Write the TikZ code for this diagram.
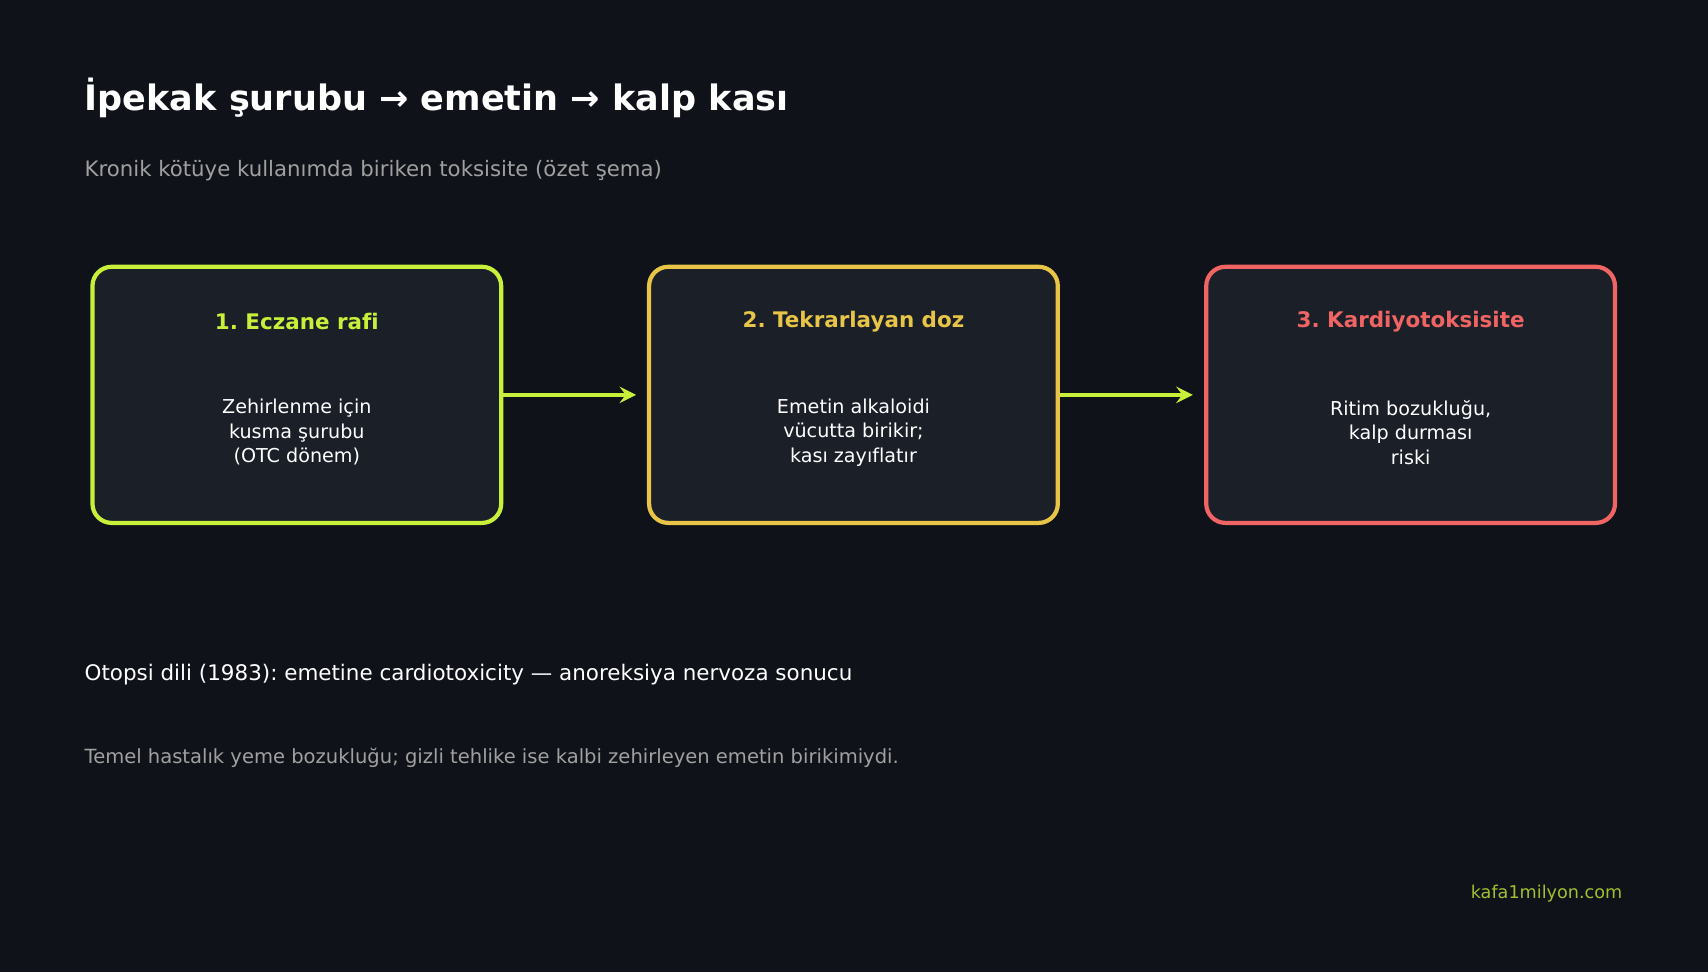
\documentclass[tikz,border=0pt]{standalone}
\usepackage{fontspec}
\setmainfont{DejaVu Sans}[Ligatures=NoCommon]
\frenchspacing
\definecolor{bg}{HTML}{0F1219}
\definecolor{boxfill}{HTML}{1B1F27}
\definecolor{lime}{HTML}{C8F03A}
\definecolor{gold}{HTML}{E8C547}
\definecolor{coral}{HTML}{F06464}
\definecolor{greytext}{HTML}{A0A0A0}
\tikzset{
  step/.style={draw=#1, line width=1.1pt, fill=boxfill, rounded corners=5pt,
    minimum width=3.75cm, minimum height=2.35cm},
  head/.style={text=#1, font=\fontsize{5.6}{6.5}\selectfont\bfseries},
  body/.style={text=white, align=center, font=\fontsize{5}{6.4}\selectfont},
  link/.style={-stealth, draw=lime, line width=0.9pt},
  plain/.style={anchor=west, inner sep=0pt}
}
\begin{document}
\begin{tikzpicture}[x=0.01cm, y=-0.01cm]
  \fill[bg] (0,0) rectangle (1568,892);
  \useasboundingbox (0,0) rectangle (1568,892);

  \node[plain, text=white, font=\fontsize{9.15}{11}\selectfont\bfseries] (title) at (77,90)
    {İpekak şurubu → emetin → kalp kası};
  \node[plain, text=greytext, font=\fontsize{5.55}{6.5}\selectfont] (sub) at (77,157)
    {Kronik kötüye kullanımda biriken toksisite (özet şema)};

  % steps
  \node[step=lime] (shelf) at (272.5,362.5) {};
  \node[step=gold] (dose) at (783.5,362.5) {};
  \node[step=coral] (cardio) at (1295,362.5) {};

  \node[head=lime] (shelfh) at (272.5,295) {1. Eczane rafi};
  \node[head=gold] (doseh) at (783.5,295) {2. Tekrarlayan doz};
  \node[head=coral] (cardioh) at (1295,295) {3. Kardiyotoksisite};

  \node[body] (shelfb) at (272.5,397) {Zehirlenme için\\kusma şurubu\\(OTC dönem)};
  \node[body] (doseb) at (783.5,397) {Emetin alkaloidi\\vücutta birikir;\\kası zayıflatır};
  \node[body] (cardiob) at (1295,397) {Ritim bozukluğu,\\kalp durması\\riski};

  \draw[link] (shelf.east) -- ++(122,0);
  \draw[link] (dose.east) -- ++(122,0);

  \node[plain, text=white, font=\fontsize{5.6}{6.5}\selectfont] (note) at (77,619)
    {Otopsi dili (1983): emetine cardiotoxicity — anoreksiya nervoza sonucu};
  \node[plain, text=greytext, font=\fontsize{5.1}{6}\selectfont] (note2) at (77,696)
    {Temel hastalık yeme bozukluğu; gizli tehlike ise kalbi zehirleyen emetin birikimiydi.};
  \node[anchor=east, inner sep=0pt, text=lime!80!black, font=\fontsize{4.6}{5.5}\selectfont] (site) at (1490,820)
    {kafa1milyon.com};
\end{tikzpicture}
\end{document}
